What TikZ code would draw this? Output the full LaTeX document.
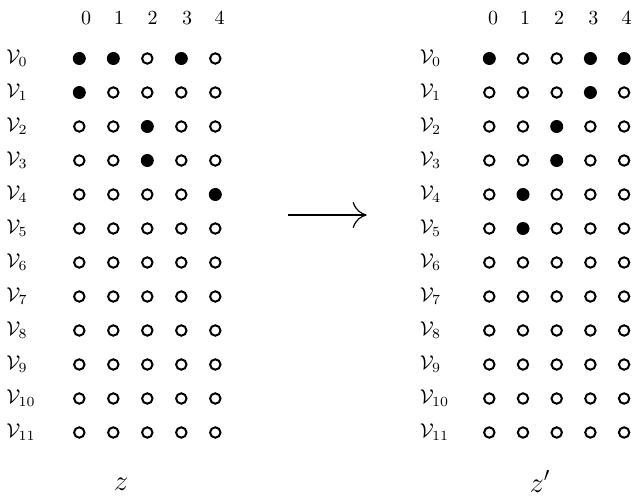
\documentclass[tikz,border=0pt]{standalone}
\usetikzlibrary{arrows.meta}
\newif\iffilled
\makeatletter
\newcommand\checkfilled[2]{\edef\cf@tmp{\noexpand\in@{,#2,}{,#1,}}\cf@tmp\ifin@\filledtrue\else\filledfalse\fi}
\makeatother
\def\leftfilled{0-0,0-1,0-3,1-0,2-2,3-2,4-4}
\def\rightfilled{0-0,0-3,0-4,1-3,2-2,3-2,4-1,5-1}
\tikzset{
  odot/.style={circle,draw=black,line width=1pt,minimum size=5.2pt,inner sep=0pt},
  fdot/.style={circle,fill=black,minimum size=6.5pt,inner sep=0pt},
  lab/.style={anchor=base west,inner sep=0pt},
  hdr/.style={anchor=base,inner sep=0pt},
  zlab/.style={anchor=base,inner sep=0pt,font=\Large}
}
\begin{document}
\begin{tikzpicture}[x=0.5pt,y=-0.5pt]
\useasboundingbox (0,0) rectangle (636,497);
% left grid
\foreach \r in {0,...,11}{
  \foreach \c in {0,...,4}{
    \checkfilled{\leftfilled}{\r-\c}%
    \iffilled
      \node[fdot] (L\r-\c) at ({79.3+34*\c},{58.5+34*\r}) {};
    \else
      \node[odot] (L\r-\c) at ({79.3+34*\c},{58.5+34*\r}) {};
    \fi
  }
  \node[lab] (LV\r) at (6,{63.5+34*\r}) {$\mathcal{V}_{\r}$};
}
% right grid
\foreach \r in {0,...,11}{
  \foreach \c in {0,...,4}{
    \checkfilled{\rightfilled}{\r-\c}%
    \iffilled
      \node[fdot] (R\r-\c) at ({489.3+33.7*\c},{58.5+34*\r}) {};
    \else
      \node[odot] (R\r-\c) at ({489.3+33.7*\c},{58.5+34*\r}) {};
    \fi
  }
  \node[lab] (RV\r) at (419.5,{63.5+34*\r}) {$\mathcal{V}_{\r}$};
}
% column headers
\node[hdr] (LH0) at (86,24.5) {0};
\node[hdr] (LH1) at (119,24.5) {1};
\node[hdr] (LH2) at (152.5,24.5) {2};
\node[hdr] (LH3) at (187,24.5) {3};
\node[hdr] (LH4) at (219.7,24.5) {4};
\node[hdr] (RH0) at (493,24.5) {0};
\node[hdr] (RH1) at (525,24.5) {1};
\node[hdr] (RH2) at (559,24.5) {2};
\node[hdr] (RH3) at (593.3,24.5) {3};
\node[hdr] (RH4) at (626.7,24.5) {4};
% arrow
\coordinate (as) at (288,215);
\coordinate (ae) at (366.7,215);
\draw[line width=0.6pt,-{Computer Modern Rightarrow[length=7pt,width=13pt]}] (as) -- (ae);
% bottom labels
\node[zlab] (zl) at (121,490) {$z$};
\node[zlab] (zr) at (540,492) {$z'$};
\end{tikzpicture}
\end{document}
